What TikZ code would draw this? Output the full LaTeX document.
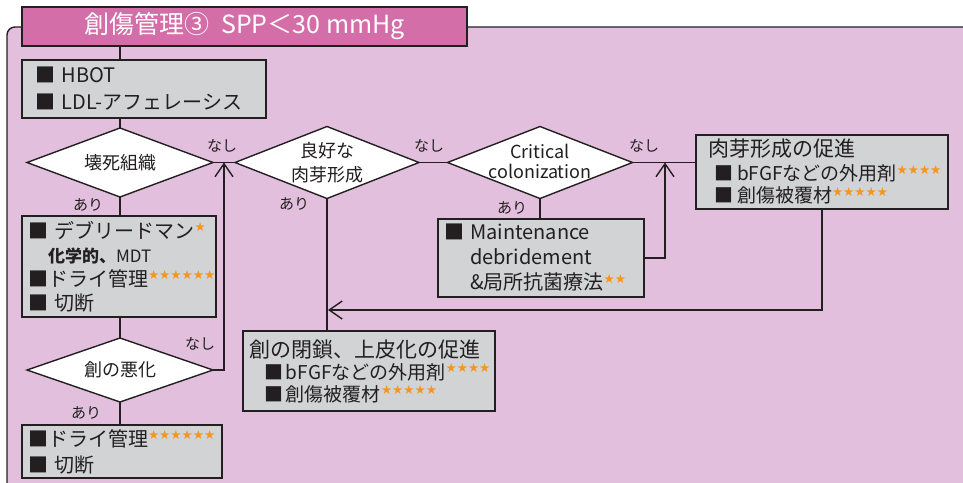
\documentclass[tikz,border=0pt]{standalone}
\usepackage{fontspec}
\setmainfont{Noto Sans CJK JP}
\newfontfamily\starfont{DejaVu Sans}
\usetikzlibrary{shapes.geometric,arrows.meta}
\definecolor{panelpink}{RGB}{226,192,221}
\definecolor{titlemag}{RGB}{212,110,168}
\definecolor{boxgray}{RGB}{209,211,212}
\definecolor{linec}{RGB}{35,31,32}
\definecolor{starc}{RGB}{247,148,29}
\newcommand{\mystars}[1]{\raisebox{6.5pt}{\textcolor{starc}{\starfont\fontsize{12.5}{12.5}\selectfont #1}}}
\begin{document}
\begin{tikzpicture}[x=1pt,y=-1pt,
  every node/.style={outer sep=0pt},
  box/.style={draw=linec, fill=boxgray, line width=1.4pt, anchor=north west, align=left, inner ysep=0pt, text=linec},
  dia/.style={draw=linec, fill=white, line width=1.4pt, shape=diamond, inner sep=0pt},
  dtext/.style={align=center, font=\fontsize{18}{24}\selectfont, text=linec, inner sep=0pt},
  lbl/.style={font=\fontsize{15}{15}\selectfont, text=linec, inner sep=0pt},
  conn/.style={draw=linec, line width=1.4pt},
  arr/.style={conn, -{Straight Barb[length=13pt,width=18pt]}}
]
\useasboundingbox (0,0) rectangle (963,482);
% panel
\draw[draw=linec, fill=panelpink, line width=1.4pt, rounded corners=8pt] (7,27) rectangle (985,500);
% title
\node[box, fill=titlemag, text=white, minimum width=445pt, minimum height=39pt, align=center, font=\fontsize{25}{30}\selectfont] (title) at (22,7) {創傷管理③\hspace{12pt}SPP＜30 mmHg};
% boxes
\node[box, minimum width=244pt, minimum height=58pt, text width=218pt, inner xsep=13pt, font=\fontsize{20}{27}\selectfont] (hbot) at (22,60) {■ HBOT\\■ LDL-アフェレーシス};
\node[box, minimum width=194pt, minimum height=101pt, text width=182pt, inner xsep=6pt, font=\fontsize{20}{24}\selectfont] (debri) at (22,216) {■ デブリードマン\mystars{★}\\\hspace*{20pt}{\fontsize{17}{24}\selectfont\bfseries 化学的、\mdseries MDT}\\■ドライ管理\mystars{★★★★★★}\\■ 切断};
\node[box, minimum width=200pt, minimum height=53pt, text width=188pt, inner xsep=6pt, font=\fontsize{20}{26}\selectfont] (dry) at (22,425) {■ドライ管理\mystars{★★★★★★}\\■ 切断};
\node[box, minimum width=206pt, minimum height=78pt, text width=194pt, inner xsep=6pt, font=\fontsize{20}{25}\selectfont] (maint) at (438,219) {\makebox[26pt][l]{■}Maintenance\\\hspace*{26pt}debridement\\\hspace*{26pt}\&局所抗菌療法\mystars{★★}};
\node[box, minimum width=252pt, minimum height=74pt, text width=228pt, inner xsep=12pt, font=\fontsize{19}{22}\selectfont] (nik) at (696,135) {{\fontsize{21}{24}\selectfont 肉芽形成の促進}\\[2pt]\hspace*{6pt}\makebox[23pt][l]{■}bFGFなどの外用剤\mystars{★★★★}\\\hspace*{6pt}\makebox[23pt][l]{■}創傷被覆材\mystars{★★★★★}};
\node[box, minimum width=252pt, minimum height=80pt, text width=240pt, inner xsep=6pt, font=\fontsize{19}{22}\selectfont] (close) at (243,331) {{\fontsize{21}{24}\selectfont 創の閉鎖、上皮化の促進}\\\hspace*{15pt}\makebox[22pt][l]{■}bFGFなどの外用剤\mystars{★★★★}\\\hspace*{15pt}\makebox[22pt][l]{■}創傷被覆材\mystars{★★★★★}};
% diamonds
\node[dia, minimum width=186pt, minimum height=69pt] (d1) at (120,162.5) {};
\node[dtext] (t1) at (d1) {壊死組織};
\node[dia, minimum width=184pt, minimum height=72pt] (d2) at (327,162.5) {};
\node[dtext] (t2) at (d2) {良好な\\肉芽形成};
\node[dia, minimum width=185pt, minimum height=72pt] (d3) at (540,162.5) {};
\node[dtext, font=\fontsize{18}{20}\selectfont] (t3) at (540,161) {Critical\\colonization};
\node[dia, minimum width=186pt, minimum height=64pt] (d4) at (120,370) {};
\node[dtext] (t4) at (d4) {創の悪化};
% labels
\node[lbl] (n1) at (222,146) {なし};
\node[lbl] (n2) at (429,146) {なし};
\node[lbl] (n3) at (644,146) {なし};
\node[lbl] (n4) at (200,344) {なし};
\node[lbl] (a1) at (88,205) {あり};
\node[lbl] (a2) at (294,204) {あり};
\node[lbl] (a3) at (512,208) {あり};
\node[lbl] (a4) at (86,413) {あり};
% junctions
\coordinate (j1) at (224,162.5);
\coordinate (j2) at (665,162.5);
\coordinate (j3) at (328,310);
% connectors
\draw[conn] (title.south -| d1.north) -- (hbot.north -| d1.north);
\draw[conn] (hbot.south -| d1.north) -- (d1.north);
\draw[conn] (d1.south) -- (debri.north -| d1.south);
\draw[conn] (d1.east) -- (d2.west);
\draw[conn] (d2.east) -- (d3.west);
\draw[conn] (d3.east) -- (d3.east -| nik.west);
\draw[conn] (d3.south) -- (maint.north -| d3.south);
\draw[conn] (d2.south) -- (close.north -| d2.south);
\draw[conn] (debri.south -| d4.north) -- (d4.north);
\draw[conn] (d4.south) -- (dry.north -| d4.south);
\draw[arr] (d4.east) -| (j1);
\draw[arr] (maint.east) -| (j2);
\draw[arr] (nik.south) |- (j3);
\end{tikzpicture}
\end{document}
